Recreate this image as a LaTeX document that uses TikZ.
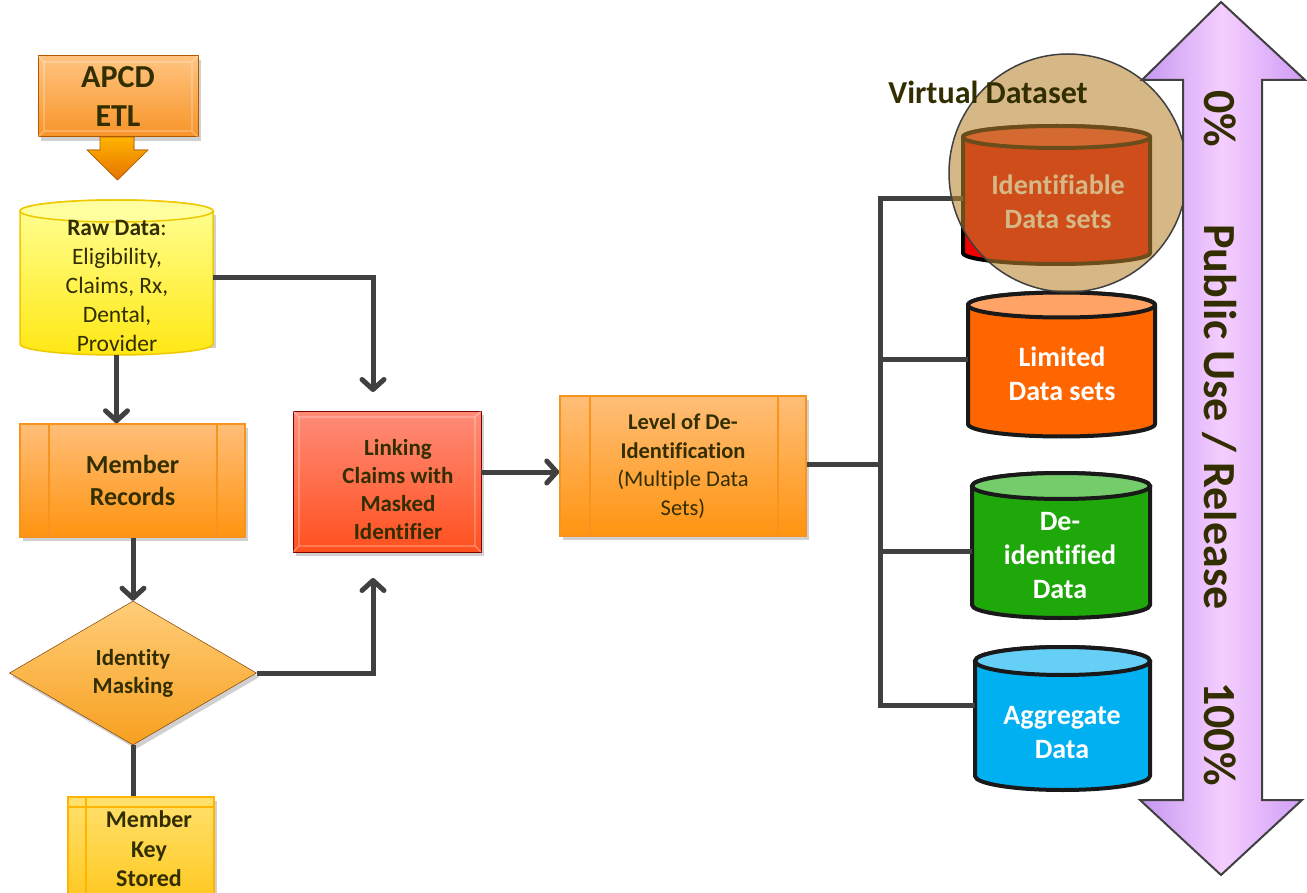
\documentclass[tikz,border=0pt]{standalone}
\usepackage{fontspec}
\setmainfont{Carlito}[Ligatures=CommonOff]
\usetikzlibrary{arrows.meta,shapes.geometric,shadows,calc,fit}

\definecolor{ink}{HTML}{332E00}
\definecolor{wire}{HTML}{404040}
\definecolor{orTop}{RGB}{255,190,120}
\definecolor{orBot}{RGB}{255,148,16}
\definecolor{orEdge}{RGB}{247,148,29}
\definecolor{etlTop}{RGB}{255,196,128}
\definecolor{etlBot}{RGB}{247,148,40}
\definecolor{dmTop}{RGB}{255,205,120}
\definecolor{dmBot}{RGB}{247,160,32}
\definecolor{keyTop}{RGB}{255,225,110}
\definecolor{keyBot}{RGB}{255,196,20}
\definecolor{keyEdge}{RGB}{255,180,0}
\definecolor{lkTop}{RGB}{255,140,120}
\definecolor{lkBot}{RGB}{255,80,30}
\definecolor{rawLid}{RGB}{255,255,160}
\definecolor{rawEdge}{RGB}{240,200,0}
\definecolor{rawTop}{RGB}{255,255,150}
\definecolor{rawBot}{RGB}{255,232,20}
\definecolor{idBody}{RGB}{240,0,0}
\definecolor{idLid}{RGB}{255,67,57}
\definecolor{ltBody}{RGB}{255,102,0}
\definecolor{ltLid}{RGB}{255,163,102}
\definecolor{dgBody}{RGB}{31,168,10}
\definecolor{dgLid}{RGB}{116,204,106}
\definecolor{agBody}{RGB}{0,176,240}
\definecolor{agLid}{RGB}{102,207,245}
\definecolor{lensFill}{RGB}{184,134,45}
\definecolor{puEdge}{RGB}{196,150,240}
\definecolor{puEdgeR}{RGB}{206,156,245}
\definecolor{puMid}{RGB}{245,206,255}

% database drum: #1 name, #2 left x, #3 right x, #4 top-ellipse centre y,
% #5 bottom-ellipse centre y, #6 half height of the ellipses, #7 body fill options,
% #8 lid colour, #9 outline colour; outline width in \drumlw
\def\drumlw{4pt}
\newcommand{\drum}[9]{%
  \pgfmathsetmacro{\drumrx}{(#3-#2)/2}%
  \pgfmathsetmacro{\drumcx}{(#3+#2)/2}%
  \filldraw[#7,draw=#9,line width=\drumlw]
    (#2,#4) -- (#2,#5)
    arc[start angle=180,end angle=360,x radius=\drumrx pt,y radius=#6pt]
    -- (#3,#4)
    arc[start angle=0,end angle=180,x radius=\drumrx pt,y radius=#6pt] -- cycle;
  \filldraw[fill=#8,draw=#9,line width=\drumlw]
    (\drumcx,#4) ellipse[x radius=\drumrx pt,y radius=#6pt];
  \path (#2,#4-#6) coordinate (#1-nw) (#3,#5+#6) coordinate (#1-se);
  \node[inner sep=0pt,fit=(#1-nw)(#1-se)] (#1) {};
}

\tikzset{
  lbl/.style={text=ink,font=\bfseries\fontsize{23}{28}\selectfont,align=center},
  conn/.style={draw=wire,line width=5pt},
  tip/.style={-{Straight Barb[length=10pt,width=22pt,round]}},
  dshadow/.style={drop shadow={shadow xshift=3pt,shadow yshift=-4pt,opacity=0.3,fill=black!60}},
  procbox/.style={rectangle,draw=#1,line width=1.5pt,inner sep=0pt,dshadow},
  bevel/.style={draw=white,line width=1.2pt,opacity=0.35},
  drumtxt/.style={text=white,font=\bfseries\fontsize{28}{34}\selectfont,align=center},
  scaletxt/.style={text=ink,font=\bfseries\fontsize{46}{52}\selectfont,rotate=-90},
}

\begin{document}
\begin{tikzpicture}[x=1pt,y=-1pt]
\clip (0,0) rectangle (1307,893);
\fill[white] (0,0) rectangle (1307,893);

% ---------- source ----------
\node[rectangle,top color=etlTop,bottom color=etlBot,
  draw=orange!70!black,line width=1pt,minimum width=160pt,minimum height=81pt,dshadow,
  text=ink,font=\bfseries\fontsize{32}{39}\selectfont,align=center] (apcd) at (118,96.5) {APCD\\ETL};
\draw[bevel] (44,62) rectangle (192,131) (38,56) -- (44,62) (198,56) -- (192,62) (38,137) -- (44,131) (198,137) -- (192,131);
\fill[top color=orange!60!yellow,bottom color=orange!90!black,draw=orange!70!black,line width=0.6pt]
  (100,137) -- (100,150) -- (87,150) -- (117.5,180) -- (148,150) -- (134,150) -- (134,137) -- cycle;

% raw data store
\fill[black!60,opacity=0.3] (23,215) rectangle (216,348);
{\def\drumlw{1.5pt}%
\drum{raw}{20}{213}{211}{344}{11}{top color=rawTop,bottom color=rawBot}{rawLid}{rawEdge}}
\node[text=ink,font=\fontsize{23.5}{29}\selectfont,align=center] (rawtxt) at (117,286)
  {\textbf{Raw Data}:\\Eligibility,\\Claims, Rx,\\Dental,\\Provider};

% member records
\node[procbox=orEdge,top color=orTop,bottom color=orBot,
  minimum width=225pt,minimum height=113pt] (member) at (132.5,480.5) {};
\draw[orEdge,line width=1.2pt] (49,424) -- (49,537) (217,424) -- (217,537);
\node[lbl,font=\bfseries\fontsize{26}{32}\selectfont] at (member) {Member\\Records};

% identity masking
\node[diamond,aspect=1.7,minimum width=247pt,minimum height=144pt,inner sep=0pt,
  top color=dmTop,bottom color=dmBot,draw=orange!50!black,line width=0.5pt,dshadow] (mask) at (133,673) {};
\node[lbl] at (mask) {Identity\\Masking};

% member key stored
\node[procbox=keyEdge,top color=keyTop,bottom color=keyBot,
  minimum width=146pt,minimum height=120pt,anchor=north west] (key) at (67,796) {};
\draw[keyEdge,line width=1.2pt] (86,796) -- (86,920) (67,807) -- (213,807);
\node[lbl,font=\bfseries\fontsize{24}{29.5}\selectfont] at (149,849) {Member\\Key\\Stored};

% linking claims
\node[rectangle,top color=lkTop,bottom color=lkBot,
  draw=red!50!black,line width=0.8pt,minimum width=188pt,minimum height=141pt,dshadow] (link) at (387,481.5) {};
\draw[bevel] (299,417) rectangle (475,546) (293,411) -- (299,417) (481,411) -- (475,417) (293,552) -- (299,546) (481,552) -- (475,546);
\node[lbl] at (398,490) {Linking\\Claims with\\Masked\\Identifier};

% level of de-identification
\node[procbox=orEdge,top color=orTop,bottom color=orBot,
  minimum width=246pt,minimum height=140pt] (level) at (683,466) {};
\draw[orEdge,line width=1.2pt] (590,396) -- (590,536) (778,396) -- (778,536);
\node[text=ink,font=\fontsize{22.5}{28.5}\selectfont,align=center] at (683,466)
  {\textbf{Level of De-}\\\textbf{Identification}\\(Multiple Data\\Sets)};

% ---------- connectors ----------
\coordinate (linkin1) at (373,392);
\coordinate (linkin2) at (373,578);
\coordinate (bus) at (880,464);
\draw[conn,tip] (raw.south) -- (raw.south |- member.north);
\draw[conn,tip] (member.south -| mask.north) -- (mask.north);
\draw[conn] (mask.south) -- (key.north -| mask.south);
\draw[conn,tip] (raw.east |- 0,278) -| (linkin1);
\draw[conn,tip] (mask.east) -| (linkin2);
\draw[conn,tip] (link.east |- 0,472) -- (level.west |- 0,472);
\draw[conn] (level.east |- bus) -- (bus);

% ---------- output data sets ----------
\drum{ident}{963}{1150}{137}{253}{11}{fill=idBody}{idLid}{black}
\drum{limited}{968}{1155}{305}{424}{12.5}{fill=ltBody}{ltLid}{black!90}
\drum{deid}{972}{1150}{486}{605}{13}{fill=dgBody}{dgLid}{black!90}
\drum{agg}{975}{1150}{661}{776}{14}{fill=agBody}{agLid}{black!90}
\node[drumtxt] at (1058,202) {Identifiable\\Data sets};
\node[drumtxt] at (1062,374) {Limited\\Data sets};
\node[drumtxt] at (1060,556) {De-\\identified\\Data};
\node[drumtxt] at (1062,733) {Aggregate\\Data};

\draw[conn,line join=miter] ($(ident.west)+(0,4)$) -| ($(agg.west -| bus)+(0,-13)$) -- ($(agg.west)+(0,-13)$);
\draw[conn] (bus |- limited.west) ++(0,-5) -- ($(limited.west)+(0,-5)$);
\draw[conn] (bus |- deid.west) ++(0,6) -- ($(deid.west)+(0,6)$);

% virtual dataset lens
\node[circle,minimum size=238pt,inner sep=0pt,fill=lensFill,
  fill opacity=0.58,draw=black!75,line width=1.5pt] (lens) at (1068,173) {};
\node[text=ink,font=\bfseries\fontsize{32}{38}\selectfont] (virt) at (988,92) {Virtual Dataset};

% ---------- release scale ----------
\path[draw=black!75,line width=2pt,left color=puEdge,right color=puEdgeR,middle color=puMid]
  (1221,2) -- (1305,80) -- (1262,80) -- (1262,800) -- (1302,800) -- (1221,875)
  -- (1140,800) -- (1183,800) -- (1183,80) -- (1142,80) -- cycle;
\node[scaletxt] (pct0) at (1220,119) {0\%};
\node[scaletxt] (pub) at (1220,417) {Public Use / Release};
\node[scaletxt] (pct100) at (1220,734) {100\%};
\end{tikzpicture}
\end{document}
